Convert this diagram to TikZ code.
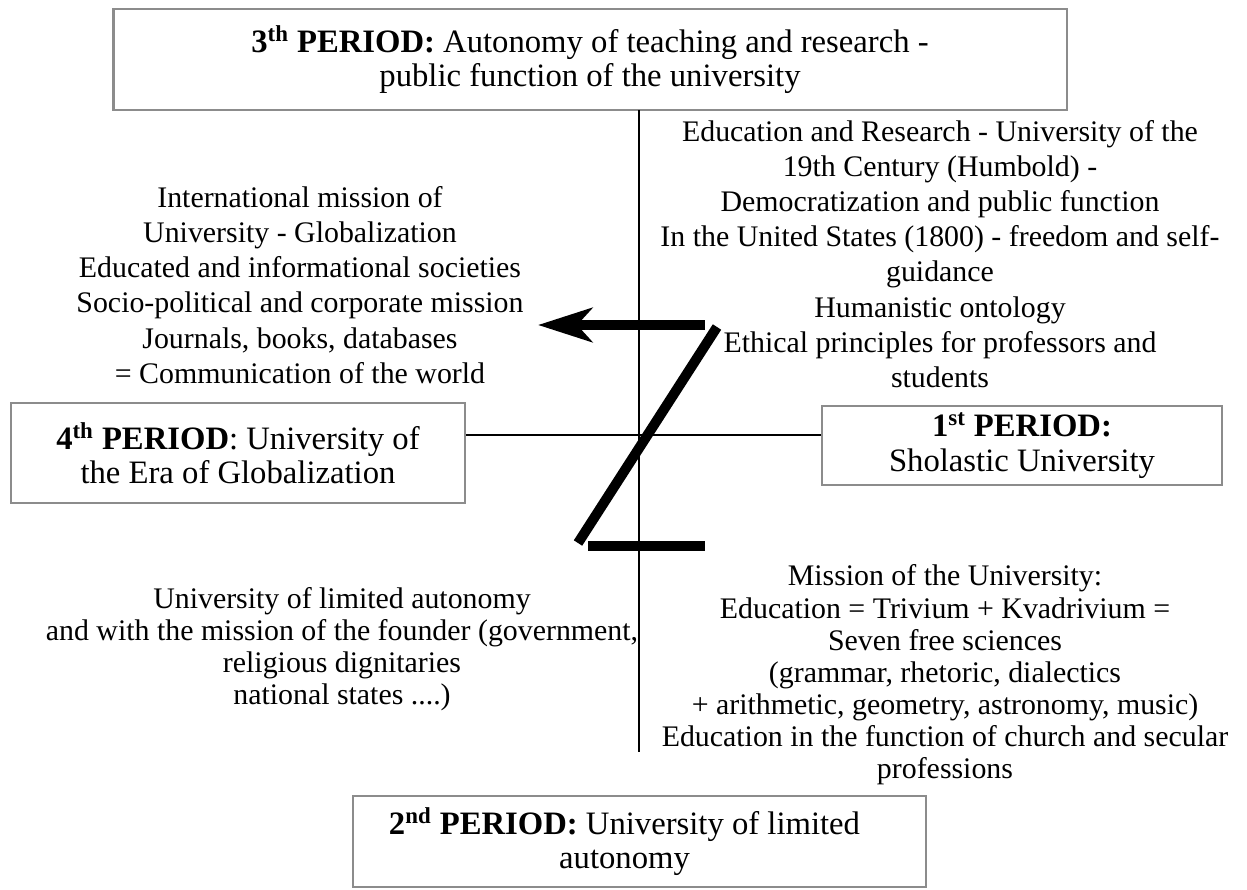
\documentclass[tikz,border=0pt]{standalone}
\usepackage{fontspec}
\setmainfont{Liberation Serif}
\usetikzlibrary{arrows.meta}

\begin{document}
\begin{tikzpicture}[
  x=0.02cm, y=-0.02cm,
  font=\fontsize{17}{20}\selectfont,
  >=Stealth,
  period/.style={draw=black!45, line width=1.6pt, align=center, inner sep=0pt,
    font=\fontsize{18.6}{19.6}\selectfont},
  note/.style={align=center, inner sep=0pt},
  tight/.style={font=\fontsize{17}{18.3}\selectfont},
  axis/.style={line width=0.6pt},
  zbar/.style={line width=0.2cm}
]
\useasboundingbox (0,0) rectangle (1247,889);

% the four periods
\node[period, minimum width=19.08cm, minimum height=2.02cm] (p3) at (590,59.5)
  {\textbf{3\textsuperscript{th} PERIOD:} Autonomy of teaching and research -\\public function of the university};
\node[period, minimum width=9.08cm, minimum height=2.0cm] (p4) at (238,453)
  {\textbf{4\textsuperscript{th} PERIOD}: University of\\the Era of Globalization};
\node[period, minimum width=8.0cm, minimum height=1.58cm] (p1) at (1022,445.5)
  {\textbf{1\textsuperscript{st} PERIOD:}\\Sholastic University};
\node[period, minimum width=11.46cm, minimum height=1.82cm] (p2) at (639.5,841.5)
  {\textbf{2\textsuperscript{nd} PERIOD:} University of limited\hspace*{0.6cm}\\autonomy\hspace*{0.6cm}};

% axes
\coordinate (cross) at (639,435);
\coordinate (vtop) at (639,110);
\coordinate (vbot) at (639,752);
\draw[axis] (vtop) -- (vbot);
\draw[axis] (cross -| p4.east) -- (cross -| p1.west);

% the Z
\coordinate (za) at (705,325);
\coordinate (zb) at (538,325);
\coordinate (zc) at (717,327);
\coordinate (zd) at (578,543);
\coordinate (ze) at (588,546);
\coordinate (zf) at (705,546);
\draw[zbar, -{Stealth[length=1.08cm, width=0.68cm, inset=0.3cm]}] (za) -- (zb);
\draw[zbar] (zc) -- (zd);
\draw[zbar] (ze) -- (zf);

% missions
\node[note] (n3) at (940,254)
  {Education and Research - University of the\\19th Century (Humbold) -\\Democratization and public function\\In the United States (1800) - freedom and self-\\guidance\\Humanistic ontology\\Ethical principles for professors and\\students};
\node[note] (n4) at (300,285)
  {International mission of\\University - Globalization\\Educated and informational societies\\Socio-political and corporate mission\\Journals, books, databases\\ = Communication of the world};
\node[note, tight] (n2) at (342,649)
  {University of limited autonomy\\and with the mission of the founder (government,\\religious dignitaries\\national states ....)};
\node[note, tight] (n1) at (945,675)
  {Mission of the University:\\Education = Trivium + Kvadrivium =\\Seven free sciences\\(grammar, rhetoric, dialectics\\+ arithmetic, geometry, astronomy, music)\\Education in the function of church and secular\\professions};
\end{tikzpicture}
\end{document}
